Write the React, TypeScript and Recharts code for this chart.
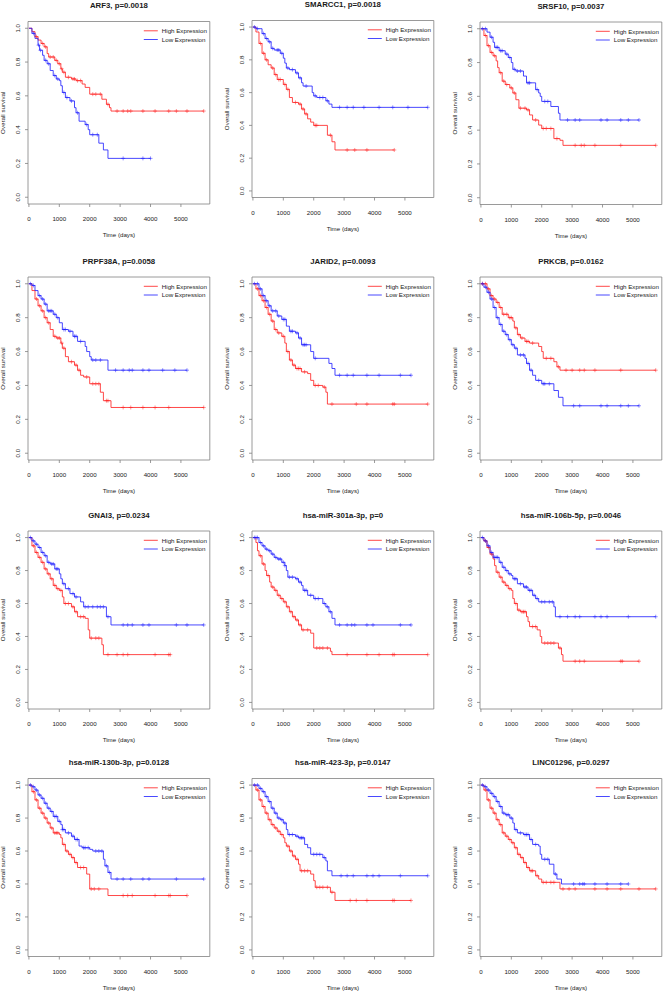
import React from 'react';
import { LineChart, Line, XAxis, YAxis, ReferenceArea } from 'recharts';

type Step = [number, number];

// ---------- titles / tick labels ----------
const titles = [
  'ARF3, p=0.0018', 'SMARCC1, p=0.0018', 'SRSF10, p=0.0037',
  'PRPF38A, p=0.0058', 'JARID2, p=0.0093', 'PRKCB, p=0.0162',
  'GNAI3, p=0.0234', 'hsa-miR-301a-3p, p=0', 'hsa-miR-106b-5p, p=0.0046',
  'hsa-miR-130b-3p, p=0.0128', 'hsa-miR-423-3p, p=0.0147', 'LINC01296, p=0.0297',
];
const xTicks = [0, 1000, 2000, 3000, 4000, 5000];
const yTicks = [0, 0.2, 0.4, 0.6, 0.8, 1.0];
const legendLabels = ['High Expression', 'Low Expression'];

// ---------- data: steps [time, survival] and censor times ----------
const arf3High: Step[] = [[0,1],[100,0.98],[200,0.95],[300,0.93],[400,0.91],[500,0.89],[600,0.85],[650,0.83],[850,0.81],[950,0.79],[1050,0.76],[1100,0.74],[1200,0.71],[1400,0.70],[1550,0.69],[1750,0.67],[1850,0.65],[2000,0.61],[2400,0.58],[2550,0.55],[2650,0.53],[2700,0.51]];
const arf3HighCens = [250,450,550,700,800,900,1000,1080,1150,1300,1450,1500,1600,1700,2100,2200,2350,2600,2900,3100,3250,3350,3750,4150,4600,4850,5200,5750];
const arf3Low: Step[] = [[0,1],[100,0.97],[200,0.94],[300,0.90],[350,0.87],[450,0.84],[500,0.81],[600,0.79],[700,0.75],[800,0.72],[900,0.70],[1000,0.69],[1050,0.66],[1100,0.62],[1200,0.59],[1350,0.57],[1500,0.53],[1550,0.50],[1650,0.45],[1850,0.43],[1950,0.40],[2000,0.37],[2300,0.32],[2450,0.28],[2600,0.23]];
const arf3LowCens = [150,320,380,550,650,850,950,1150,1250,1400,1600,1900,2100,2250,3100,3750,4000];

const smarcc1High: Step[] = [[0,1],[100,0.97],[200,0.90],[300,0.84],[400,0.80],[500,0.77],[600,0.75],[700,0.71],[800,0.68],[1000,0.65],[1100,0.62],[1200,0.57],[1300,0.54],[1500,0.53],[1600,0.50],[1700,0.47],[1800,0.44],[1900,0.42],[2000,0.40],[2450,0.34],[2600,0.30],[2700,0.25]];
const smarcc1HighCens = [250,350,450,650,750,850,900,1050,1150,1400,1550,1650,1750,2050,2100,2550,3100,3350,3750,4650];
const smarcc1Low: Step[] = [[0,1],[100,0.99],[300,0.96],[400,0.93],[500,0.91],[600,0.87],[700,0.86],[900,0.84],[1000,0.81],[1050,0.78],[1100,0.75],[1200,0.74],[1400,0.72],[1500,0.69],[1600,0.66],[1650,0.64],[1950,0.60],[2000,0.58],[2100,0.57],[2400,0.55],[2500,0.53],[2600,0.51]];
const smarcc1LowCens = [50,150,350,450,550,650,800,850,950,1150,1300,1450,1550,1750,2050,2200,2300,2450,2850,3100,3300,3650,4150,4600,5100,5750];

const srsf10High: Step[] = [[0,1],[100,0.96],[200,0.90],[300,0.86],[400,0.84],[500,0.81],[550,0.77],[600,0.74],[700,0.69],[800,0.67],[950,0.65],[1050,0.62],[1150,0.58],[1250,0.53],[1500,0.52],[1600,0.49],[1700,0.46],[1900,0.43],[2000,0.41],[2400,0.35],[2600,0.34],[2700,0.31]];
const srsf10HighCens = [150,250,350,450,650,750,850,1000,1100,1300,1450,1550,1800,2050,2150,2300,2500,3100,3300,3400,3750,4600,5750];
const srsf10Low: Step[] = [[0,1],[200,0.98],[300,0.95],[400,0.92],[450,0.89],[600,0.87],[800,0.85],[900,0.83],[1000,0.80],[1050,0.76],[1150,0.75],[1400,0.72],[1500,0.68],[1800,0.64],[1900,0.62],[1950,0.60],[2000,0.57],[2300,0.54],[2550,0.50],[2600,0.46]];
const srsf10LowCens = [50,150,350,500,550,650,700,850,950,1100,1200,1300,1550,1600,1850,2100,2200,2850,3100,3250,3950,4150,4600,4850,5200];

const prpf38aHigh: Step[] = [[0,1],[100,0.96],[200,0.91],[300,0.87],[400,0.84],[500,0.80],[600,0.77],[700,0.73],[800,0.69],[900,0.68],[1050,0.65],[1100,0.62],[1200,0.57],[1300,0.54],[1500,0.52],[1600,0.49],[1700,0.46],[1800,0.45],[2000,0.41],[2350,0.36],[2450,0.31],[2700,0.27]];
const prpf38aHighCens = [250,350,450,550,650,850,950,1000,1080,1150,1400,1550,1650,1900,2100,2200,2300,2550,2600,3100,3350,3750,4150,4600,5750];
const prpf38aLow: Step[] = [[0,1],[100,0.99],[200,0.96],[300,0.93],[400,0.91],[500,0.88],[600,0.84],[800,0.82],[900,0.80],[1000,0.77],[1100,0.73],[1300,0.72],[1450,0.69],[1600,0.66],[1850,0.63],[1900,0.60],[2000,0.57],[2050,0.55],[2600,0.49]];
const prpf38aLowCens = [50,150,350,450,550,650,700,750,850,950,1150,1200,1350,1500,1550,1700,2100,2200,2350,2850,3100,3300,3400,3750,3950,4400,4800,5200];

const jarid2High: Step[] = [[0,1],[100,0.97],[200,0.93],[300,0.90],[400,0.86],[500,0.82],[600,0.78],[700,0.73],[800,0.71],[950,0.69],[1050,0.65],[1100,0.60],[1200,0.55],[1300,0.52],[1400,0.50],[1600,0.48],[1800,0.47],[1900,0.43],[2000,0.40],[2300,0.39],[2400,0.36],[2450,0.29]];
const jarid2HighCens = [150,250,350,450,550,650,750,850,1000,1150,1250,1350,1450,1500,1550,1700,2050,2150,2350,2600,3400,3750,4600,4650,5750];
const jarid2Low: Step[] = [[0,1],[200,0.97],[300,0.93],[400,0.90],[500,0.87],[600,0.84],[800,0.81],[950,0.79],[1100,0.75],[1200,0.72],[1400,0.71],[1500,0.68],[1600,0.64],[1900,0.60],[2000,0.56],[2500,0.53],[2600,0.50],[2700,0.46]];
const jarid2LowCens = [50,150,250,350,450,550,650,750,850,1000,1050,1250,1300,1450,1550,1650,1700,1750,2050,2850,3100,3300,3750,4150,4850,5200];

const prkcbHigh: Step[] = [[0,1],[200,0.97],[300,0.93],[400,0.91],[500,0.89],[600,0.86],[700,0.82],[900,0.80],[1050,0.78],[1100,0.74],[1200,0.70],[1300,0.68],[1450,0.66],[1600,0.65],[1900,0.63],[2000,0.60],[2050,0.56],[2400,0.54],[2500,0.51],[2600,0.49]];
const prkcbHighCens = [50,150,250,350,450,550,650,750,850,950,1000,1150,1250,1350,1500,1550,1700,2150,2300,2550,2800,3000,3250,3400,3750,4600,5750];
const prkcbLow: Step[] = [[0,1],[100,0.98],[200,0.95],[300,0.91],[400,0.86],[500,0.80],[600,0.76],[700,0.72],[800,0.70],[900,0.67],[1000,0.64],[1100,0.62],[1200,0.58],[1450,0.56],[1500,0.53],[1600,0.49],[1700,0.46],[1800,0.43],[2000,0.41],[2400,0.37],[2550,0.33],[2700,0.28]];
const prkcbLowCens = [50,150,250,350,450,550,650,750,850,950,1050,1150,1300,1400,1550,1650,1900,2050,2100,2250,3050,3250,3950,4150,4600,4850,5200];

const gnai3High: Step[] = [[0,1],[100,0.95],[200,0.91],[300,0.88],[400,0.85],[500,0.81],[600,0.78],[700,0.75],[800,0.71],[900,0.69],[1000,0.68],[1100,0.64],[1150,0.60],[1400,0.58],[1500,0.55],[1600,0.52],[1850,0.51],[1950,0.44],[2000,0.39],[2400,0.35],[2450,0.29]];
const gnai3HighCens = [150,250,350,450,550,650,750,850,950,1050,1200,1300,1450,1550,1700,1800,2050,2200,2300,2600,2900,3100,3250,4150,4600,4650];
const gnai3Low: Step[] = [[0,1],[100,0.98],[200,0.96],[300,0.94],[400,0.91],[500,0.89],[600,0.85],[700,0.84],[850,0.81],[1000,0.78],[1050,0.75],[1100,0.72],[1200,0.69],[1350,0.66],[1500,0.64],[1700,0.61],[1800,0.58],[2550,0.52],[2700,0.47]];
const gnai3LowCens = [50,150,250,350,450,550,650,750,800,900,950,1150,1300,1450,1550,1850,1950,2100,2250,2350,2450,2600,3100,3250,3400,3750,3950,4850,5200,5750];

const mir301aHigh: Step[] = [[0,1],[100,0.97],[150,0.92],[200,0.89],[300,0.84],[400,0.80],[450,0.77],[550,0.73],[600,0.70],[700,0.68],[800,0.65],[900,0.63],[1000,0.61],[1100,0.58],[1200,0.55],[1300,0.52],[1400,0.50],[1500,0.47],[1600,0.44],[1900,0.42],[2000,0.33],[2550,0.31],[2600,0.29]];
const mir301aHighCens = [250,350,500,650,750,850,950,1050,1150,1250,1350,1450,1550,1650,1800,2100,2200,2300,2450,3100,3750,4150,4600,4650,5750];
const mir301aLow: Step[] = [[0,1],[200,0.97],[300,0.95],[400,0.93],[500,0.92],[600,0.90],[700,0.88],[800,0.87],[950,0.85],[1050,0.83],[1100,0.80],[1150,0.76],[1400,0.75],[1500,0.73],[1600,0.71],[1650,0.68],[1800,0.65],[2000,0.63],[2300,0.60],[2400,0.58],[2500,0.55],[2600,0.51],[2700,0.47]];
const mir301aLowCens = [50,100,150,250,350,450,550,650,750,850,900,1000,1050,1200,1300,1450,1550,1700,1750,1900,2050,2150,2350,2450,2550,2850,3100,3250,3350,3750,3950,4850,5200];

const mir106bHigh: Step[] = [[0,1],[100,0.98],[200,0.94],[300,0.90],[400,0.87],[450,0.83],[500,0.79],[600,0.76],[700,0.73],[800,0.71],[900,0.69],[1000,0.68],[1050,0.63],[1100,0.60],[1200,0.56],[1300,0.55],[1500,0.52],[1550,0.49],[1600,0.46],[1850,0.44],[1950,0.40],[2000,0.36],[2550,0.33],[2650,0.29],[2700,0.25]];
const mir106bHighCens = [150,250,350,550,650,750,850,950,1150,1250,1350,1400,1450,1700,1800,2100,2200,2300,2400,2600,3100,3250,3400,4600,4650,5200];
const mir106bLow: Step[] = [[0,1],[100,0.98],[200,0.95],[300,0.91],[400,0.88],[600,0.85],[700,0.82],[800,0.80],[900,0.78],[1000,0.77],[1050,0.75],[1200,0.72],[1400,0.70],[1550,0.68],[1700,0.65],[1800,0.63],[1900,0.61],[2400,0.58],[2450,0.52]];
const mir106bLowCens = [50,150,250,350,450,500,550,650,750,850,950,1100,1150,1300,1450,1500,1600,1650,1750,1850,2000,2100,2250,2350,2600,2850,3100,3250,3750,3950,4150,4850,5750];

const mir130bHigh: Step[] = [[0,1],[100,0.96],[200,0.91],[300,0.86],[400,0.83],[500,0.80],[600,0.77],[700,0.74],[800,0.71],[1000,0.70],[1050,0.68],[1100,0.64],[1200,0.60],[1300,0.58],[1400,0.56],[1500,0.53],[1600,0.50],[1900,0.46],[2000,0.37],[2600,0.33]];
const mir130bHighCens = [150,250,350,450,550,650,750,850,900,950,1150,1250,1350,1450,1550,1700,1800,2050,2150,2300,3100,3250,3400,4150,4600,4650,5200];
const mir130bLow: Step[] = [[0,1],[100,0.99],[200,0.97],[300,0.94],[400,0.92],[500,0.89],[600,0.86],[700,0.84],[800,0.81],[950,0.78],[1050,0.76],[1100,0.73],[1200,0.71],[1400,0.69],[1500,0.67],[1650,0.63],[1750,0.62],[2000,0.61],[2100,0.60],[2450,0.55],[2500,0.51],[2600,0.47],[2700,0.43]];
const mir130bLowCens = [50,150,250,350,450,550,650,750,850,900,1000,1100,1150,1300,1450,1550,1600,1800,1850,1950,2200,2300,2400,2550,2650,2900,3100,3350,3750,3950,4850,5750];

const mir423High: Step[] = [[0,1],[100,0.97],[200,0.91],[300,0.87],[400,0.83],[500,0.79],[600,0.76],[700,0.74],[800,0.72],[900,0.70],[1000,0.68],[1050,0.65],[1100,0.63],[1200,0.60],[1300,0.57],[1400,0.55],[1500,0.52],[1550,0.48],[1900,0.46],[2000,0.42],[2050,0.38],[2550,0.35],[2700,0.30]];
const mir423HighCens = [150,250,350,450,550,650,750,850,950,1150,1250,1350,1450,1600,1700,1800,2100,2200,2300,2450,2600,3200,3400,3750,4600,4650,5200];
const mir423Low: Step[] = [[0,1],[200,0.98],[300,0.96],[400,0.93],[500,0.90],[600,0.86],[700,0.83],[800,0.80],[900,0.79],[1000,0.77],[1100,0.73],[1150,0.70],[1400,0.69],[1500,0.68],[1700,0.64],[1800,0.62],[1900,0.58],[2300,0.56],[2400,0.54],[2450,0.48],[2600,0.45]];
const mir423LowCens = [50,150,250,350,450,550,650,750,850,950,1050,1200,1300,1450,1550,1600,1650,2000,2100,2200,2350,2900,3100,3300,3750,3950,4150,4850,5750];

const linc01296High: Step[] = [[0,1],[100,0.97],[200,0.91],[300,0.86],[400,0.83],[500,0.79],[600,0.76],[700,0.71],[800,0.69],[900,0.67],[1000,0.65],[1100,0.62],[1200,0.58],[1300,0.56],[1400,0.53],[1500,0.50],[1600,0.48],[1800,0.45],[1900,0.43],[2000,0.41],[2600,0.37]];
const linc01296HighCens = [150,250,350,450,550,650,750,850,950,1050,1150,1250,1350,1450,1550,1650,1700,1850,2050,2150,2300,2400,2700,2900,3100,3750,4150,4600,5200,5750];
const linc01296Low: Step[] = [[0,1],[100,0.99],[200,0.97],[300,0.95],[400,0.93],[500,0.90],[600,0.87],[700,0.83],[800,0.82],[950,0.80],[1050,0.77],[1100,0.73],[1200,0.71],[1400,0.70],[1600,0.67],[1700,0.64],[1900,0.63],[1950,0.58],[2000,0.55],[2250,0.52],[2400,0.46],[2500,0.43],[2650,0.40]];
const linc01296LowCens = [50,150,250,350,450,550,650,750,850,900,1000,1150,1300,1450,1500,1550,1650,1800,2100,2200,2450,3050,3250,3350,3400,3750,4150,4600,4850];

const panelsData: [Step[], number[], Step[], number[]][] = [
  [arf3High, arf3HighCens, arf3Low, arf3LowCens],
  [smarcc1High, smarcc1HighCens, smarcc1Low, smarcc1LowCens],
  [srsf10High, srsf10HighCens, srsf10Low, srsf10LowCens],
  [prpf38aHigh, prpf38aHighCens, prpf38aLow, prpf38aLowCens],
  [jarid2High, jarid2HighCens, jarid2Low, jarid2LowCens],
  [prkcbHigh, prkcbHighCens, prkcbLow, prkcbLowCens],
  [gnai3High, gnai3HighCens, gnai3Low, gnai3LowCens],
  [mir301aHigh, mir301aHighCens, mir301aLow, mir301aLowCens],
  [mir106bHigh, mir106bHighCens, mir106bLow, mir106bLowCens],
  [mir130bHigh, mir130bHighCens, mir130bLow, mir130bLowCens],
  [mir423High, mir423HighCens, mir423Low, mir423LowCens],
  [linc01296High, linc01296HighCens, linc01296Low, linc01296LowCens],
];

// ---------- layout (not data) ----------
const PANEL_W = 221;
const PANEL_H = 248;
const colX = [0, 221, 442];
const rowY = [0, 248, 496, 744];
const colPlotLeft = [28, 31, 38];
const panelBox: [number, number][] = [
  [21.5, 182.5], [20.5, 177], [22, 182.5],
  [29, 183], [29, 183], [29, 183],
  [35, 178], [35, 178], [35, 178],
  [34.5, 178], [34.5, 178], [34.5, 178],
];
const X_MIN = -30;
const X_MAX = 5950;
const PLOT_W = 181.8;
const FONT = '"Liberation Sans", Arial, Helvetica, sans-serif';
const RED = '#ff1a1a';
const BLUE = '#1a1aff';
const AXIS = '#808080';
const TXT = '#1a1a1a';

type Pt = { t: number; s: number; c: boolean };

function buildSeries(steps: Step[], cens: number[]): Pt[] {
  const pts: Pt[] = steps.map(([t, s]) => ({ t, s, c: false }));
  cens.forEach((t) => {
    let s = 1;
    for (const [st, sv] of steps) if (st <= t) s = sv;
    pts.push({ t, s, c: true });
  });
  pts.sort((a, b) => a.t - b.t || Number(a.c) - Number(b.c));
  return pts;
}

function makeDot(color: string) {
  return (p: any) => {
    const key = `d-${p.index}`;
    if (!p.payload || !p.payload.c || p.cx == null || p.cy == null) return <g key={key} />;
    const r = 2;
    return (
      <path
        key={key}
        d={`M${p.cx - r},${p.cy}H${p.cx + r}M${p.cx},${p.cy - r}V${p.cy + r}`}
        stroke={color}
        strokeWidth={0.6}
        strokeOpacity={0.8}
        fill="none"
      />
    );
  };
}

function Panel({ idx }: { idx: number }) {
  const col = idx % 3;
  const row = Math.floor(idx / 3);
  const plotLeft = colPlotLeft[col];
  const [boxTop, boxH] = panelBox[idx];
  const boxBottom = boxTop + boxH;
  const plotRight = plotLeft + PLOT_W;
  const cx = plotLeft + PLOT_W / 2;
  const [hs, hc, ls, lc] = panelsData[idx];
  const high = buildSeries(hs, hc);
  const low = buildSeries(ls, lc);

  const xTick = (p: any) => (
    <text x={p.x} y={boxBottom + 17.2} textAnchor="middle" fontSize={6.2} fill={TXT} fontFamily={FONT}>
      {p.payload.value}
    </text>
  );
  const yTick = (p: any) => {
    const tx = plotLeft - 10 + 2.2;
    return (
      <text
        x={tx}
        y={p.y}
        textAnchor="middle"
        fontSize={6.2}
        fill={TXT}
        fontFamily={FONT}
        transform={`rotate(-90, ${tx}, ${p.y})`}
      >
        {Number(p.payload.value).toFixed(1)}
      </text>
    );
  };

  return (
    <div style={{ position: 'absolute', left: colX[col], top: rowY[row], width: PANEL_W, height: PANEL_H }}>
      <LineChart
        width={PANEL_W}
        height={PANEL_H}
        margin={{ top: boxTop, right: PANEL_W - plotRight, bottom: 0, left: 0 }}
      >
        <XAxis
          type="number"
          dataKey="t"
          domain={[X_MIN, X_MAX]}
          ticks={xTicks}
          interval={0}
          allowDataOverflow
          axisLine={false}
          tickSize={3}
          tickLine={{ stroke: AXIS, strokeWidth: 0.8 }}
          height={PANEL_H - boxBottom}
          tick={xTick}
        />
        <YAxis
          type="number"
          dataKey="s"
          domain={[-0.04, 1.04]}
          ticks={yTicks}
          interval={0}
          allowDataOverflow
          axisLine={false}
          tickSize={3}
          tickLine={{ stroke: AXIS, strokeWidth: 0.8 }}
          width={plotLeft}
          tick={yTick}
        />
        <ReferenceArea
          x1={X_MIN}
          x2={X_MAX}
          y1={-0.04}
          y2={1.04}
          fill="none"
          fillOpacity={0}
          stroke={AXIS}
          strokeWidth={0.8}
          ifOverflow="visible"
        />
        <Line
          data={high}
          dataKey="s"
          type="stepAfter"
          stroke={RED}
          strokeWidth={0.8}
          dot={makeDot(RED)}
          activeDot={false}
          isAnimationActive={false}
          name={legendLabels[0]}
        />
        <Line
          data={low}
          dataKey="s"
          type="stepAfter"
          stroke={BLUE}
          strokeWidth={0.8}
          dot={makeDot(BLUE)}
          activeDot={false}
          isAnimationActive={false}
          name={legendLabels[1]}
        />
      </LineChart>
      <svg
        width={PANEL_W}
        height={PANEL_H}
        style={{ position: 'absolute', left: 0, top: 0, pointerEvents: 'none' }}
        fontFamily={FONT}
      >
        <text x={cx} y={boxTop - 16 + 2.8} textAnchor="middle" fontSize={7.8} fontWeight="bold" fill={TXT}>
          {titles[idx]}
        </text>
        <line x1={plotRight - 66} x2={plotRight - 52} y1={boxTop + 9.3} y2={boxTop + 9.3} stroke={RED} strokeWidth={0.8} />
        <text x={plotRight - 48} y={boxTop + 9.3 + 2.2} fontSize={6.2} fill={TXT}>
          {legendLabels[0]}
        </text>
        <line x1={plotRight - 66} x2={plotRight - 52} y1={boxTop + 18} y2={boxTop + 18} stroke={BLUE} strokeWidth={0.8} />
        <text x={plotRight - 48} y={boxTop + 18 + 2.2} fontSize={6.2} fill={TXT}>
          {legendLabels[1]}
        </text>
        <text x={cx} y={boxBottom + 31 + 2.2} textAnchor="middle" fontSize={6.2} fill={TXT}>
          Time (days)
        </text>
        <text
          x={plotLeft - 25 + 2.2}
          y={boxTop + boxH / 2}
          textAnchor="middle"
          fontSize={6.2}
          fill={TXT}
          transform={`rotate(-90, ${plotLeft - 25 + 2.2}, ${boxTop + boxH / 2})`}
        >
          Overall survival
        </text>
      </svg>
    </div>
  );
}

export default function App() {
  return (
    <div style={{ position: 'absolute', left: 0, top: 0, width: 663, height: 991, background: '#ffffff' }}>
      {titles.map((_, i) => (
        <Panel key={i} idx={i} />
      ))}
    </div>
  );
}
